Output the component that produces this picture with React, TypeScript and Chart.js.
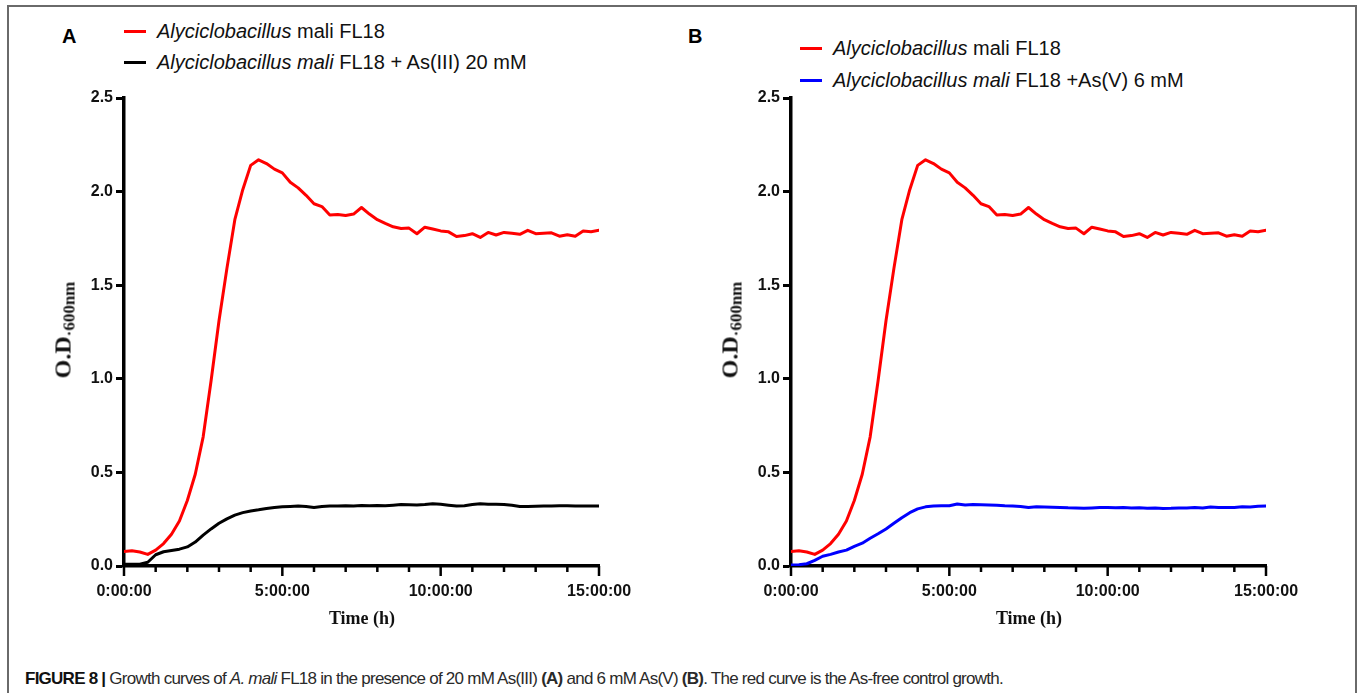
import React, { useEffect, useRef } from "react";
import { Chart, registerables } from "chart.js";

Chart.register(...registerables);

// ---- data ----
const TIME_H = [
  0, 0.25, 0.5, 0.75, 1, 1.25, 1.5, 1.75, 2, 2.25,
  2.5, 2.75, 3, 3.25, 3.5, 3.75, 4, 4.25, 4.5, 4.75,
  5, 5.25, 5.5, 5.75, 6, 6.25, 6.5, 6.75, 7, 7.25,
  7.5, 7.75, 8, 8.25, 8.5, 8.75, 9, 9.25, 9.5, 9.75,
  10, 10.25, 10.5, 10.75, 11, 11.25, 11.5, 11.75, 12, 12.25,
  12.5, 12.75, 13, 13.25, 13.5, 13.75, 14, 14.25, 14.5, 14.75,
  15,
];

const CONTROL_OD = [
  0.078, 0.082, 0.075, 0.062, 0.085, 0.12, 0.17, 0.24, 0.35, 0.49,
  0.69, 0.99, 1.31, 1.59, 1.85, 2.01, 2.14, 2.17, 2.15, 2.12,
  2.1, 2.05, 2.02, 1.98, 1.935, 1.92, 1.875, 1.878, 1.872, 1.88,
  1.915, 1.88, 1.85, 1.83, 1.812, 1.803, 1.805, 1.775, 1.81, 1.8,
  1.79, 1.785, 1.76, 1.765, 1.775, 1.755, 1.782, 1.768, 1.782, 1.777,
  1.772, 1.793, 1.775, 1.778, 1.78, 1.762, 1.77, 1.762, 1.79, 1.786,
  1.793,
];

const AS3_OD = [
  0.01, 0.01, 0.01, 0.02, 0.06, 0.076, 0.083, 0.09, 0.102, 0.128,
  0.165, 0.198, 0.228, 0.252, 0.272, 0.285, 0.294, 0.3, 0.307, 0.312,
  0.316, 0.318, 0.32, 0.318, 0.313, 0.318, 0.32, 0.32, 0.322, 0.321,
  0.323, 0.322, 0.323, 0.322, 0.325, 0.328, 0.327, 0.326, 0.328, 0.332,
  0.33, 0.325, 0.32, 0.322, 0.328, 0.332, 0.33, 0.33, 0.329, 0.324,
  0.318, 0.318, 0.319, 0.32, 0.32, 0.322, 0.322, 0.32, 0.321, 0.32,
  0.32,
];

const AS5_OD = [
  0.005, 0.007, 0.012, 0.03, 0.052, 0.062, 0.075, 0.085, 0.105, 0.122,
  0.148, 0.172, 0.198, 0.228, 0.258, 0.285, 0.305, 0.316, 0.32, 0.322,
  0.322, 0.331, 0.326, 0.328, 0.327, 0.326, 0.325, 0.322, 0.32, 0.318,
  0.313, 0.316, 0.315, 0.314, 0.313, 0.311, 0.31, 0.308, 0.31, 0.312,
  0.313, 0.311, 0.312, 0.31, 0.311, 0.309, 0.31, 0.307, 0.308, 0.31,
  0.31, 0.312, 0.31, 0.315, 0.312, 0.313, 0.313, 0.316, 0.315, 0.319,
  0.32,
];

const X_LABEL_HOURS = [0, 5, 10, 15];
const X_LABEL_TEXT = ["0:00:00", "5:00:00", "10:00:00", "15:00:00"];
const X_MINOR_HOURS = [0, 1, 2, 3, 4, 5, 6, 7, 8, 9, 10, 11, 12, 13, 14, 15];
const Y_MIN = 0;
const Y_MAX = 2.5;
const Y_STEP = 0.5;

const SANS = "'Liberation Sans', Arial, Helvetica, sans-serif";
const SERIF = "'Liberation Serif', 'Times New Roman', serif";

type Series = { label: string; values: number[]; color: string };

const xTickPlugin = {
  id: "hourTicks",
  afterDraw(chart: any) {
    const xs = chart.scales.x;
    const ctx = chart.ctx;
    const bottom = chart.chartArea.bottom;
    ctx.save();
    ctx.strokeStyle = "#000";
    ctx.lineWidth = 2.5;
    X_MINOR_HOURS.forEach((h) => {
      const px = xs.getPixelForValue(h);
      const len = X_LABEL_HOURS.includes(h) ? 10 : 6;
      ctx.beginPath();
      ctx.moveTo(px, bottom);
      ctx.lineTo(px, bottom + len);
      ctx.stroke();
    });
    ctx.restore();
  },
};

const CW = 620;
const CH = 560;

function Panel({ left, series }: { left: number; series: Series[] }) {
  const ref = useRef<HTMLCanvasElement>(null);
  useEffect(() => {
    const chart = new Chart(ref.current as HTMLCanvasElement, {
      type: "line",
      data: {
        datasets: series.map((s) => ({
          label: s.label,
          data: TIME_H.map((t, i) => ({ x: t, y: s.values[i] })),
          borderColor: s.color,
          backgroundColor: s.color,
          borderWidth: 3,
          pointRadius: 0,
          tension: 0,
          fill: false,
          borderJoinStyle: "round" as const,
          borderCapStyle: "round" as const,
        })),
      },
      options: {
        responsive: false,
        animation: false,
        devicePixelRatio: 1,
        layout: { padding: { top: 18, right: 51, left: 0, bottom: 0 } },
        plugins: { legend: { display: false }, tooltip: { enabled: false } },
        scales: {
          x: {
            type: "linear",
            min: 0,
            max: 15,
            afterFit: (s: any) => {
              s.height = 74;
            },
            afterBuildTicks: (s: any) => {
              s.ticks = X_LABEL_HOURS.map((v) => ({ value: v }));
            },
            ticks: {
              autoSkip: false,
              maxRotation: 0,
              padding: 6,
              color: "#111",
              font: { family: SANS, size: 16, weight: "bold" },
              callback: (v: any) => {
                const i = X_LABEL_HOURS.indexOf(Number(v));
                return i >= 0 ? X_LABEL_TEXT[i] : "";
              },
            },
            grid: {
              drawOnChartArea: false,
              drawTicks: true,
              tickLength: 10,
              tickColor: "rgba(0,0,0,0)",
            },
            border: { display: true, color: "#000", width: 3.5 },
          },
          y: {
            type: "linear",
            min: Y_MIN,
            max: Y_MAX,
            afterFit: (s: any) => {
              s.width = 94;
            },
            ticks: {
              stepSize: Y_STEP,
              padding: 3,
              color: "#111",
              font: { family: SANS, size: 16, weight: "bold" },
              callback: (v: any) => Number(v).toFixed(1),
            },
            grid: {
              drawOnChartArea: false,
              drawTicks: true,
              tickLength: 8,
              tickWidth: 3,
              tickColor: "#000",
            },
            border: { display: true, color: "#000", width: 3.5 },
          },
        },
      } as any,
      plugins: [xTickPlugin],
    });
    return () => chart.destroy();
  }, []);
  return (
    <canvas
      ref={ref}
      width={CW}
      height={CH}
      style={{ position: "absolute", left, top: 80, width: CW, height: CH }}
    />
  );
}

function YTitle({ cx }: { cx: number }) {
  return (
    <div
      style={{
        position: "absolute",
        left: cx,
        top: 330,
        transform: "translate(-50%, -50%) rotate(-90deg)",
        whiteSpace: "nowrap",
        fontFamily: SERIF,
        fontWeight: "bold",
        color: "#111",
        lineHeight: "26px",
      }}
    >
      <span style={{ fontSize: 24 }}>O.D</span>
      <span style={{ fontSize: 17, position: "relative", top: 4 }}>·600nm</span>
    </div>
  );
}

function XTitle({ cx }: { cx: number }) {
  return (
    <div
      style={{
        position: "absolute",
        left: cx,
        top: 618,
        transform: "translate(-50%, -50%)",
        whiteSpace: "nowrap",
        fontFamily: SERIF,
        fontWeight: "bold",
        fontSize: 18,
        color: "#111",
      }}
    >
      Time (h)
    </div>
  );
}

function LegendRow({ x, y, color, children }: { x: number; y: number; color: string; children: any }) {
  return (
    <>
      <div style={{ position: "absolute", left: x, top: y - 1.5, width: 22, height: 3, background: color }} />
      <div
        style={{
          position: "absolute",
          left: x + 33,
          top: y - 11,
          height: 22,
          lineHeight: "22px",
          whiteSpace: "nowrap",
          fontFamily: SANS,
          fontSize: 20,
          color: "#111",
        }}
      >
        {children}
      </div>
    </>
  );
}

function PanelLabel({ x, text }: { x: number; text: string }) {
  return (
    <div
      style={{
        position: "absolute",
        left: x,
        top: 25,
        lineHeight: "22px",
        fontFamily: SANS,
        fontWeight: "bold",
        fontSize: 20,
        color: "#000",
      }}
    >
      {text}
    </div>
  );
}

export default function App() {
  const RED = "#ff0000";
  return (
    <div
      style={{
        position: "fixed",
        left: 0,
        top: 0,
        width: 1360,
        height: 693,
        background: "#fff",
        overflow: "hidden",
      }}
    >
      <div
        style={{
          position: "absolute",
          left: 7,
          top: 5,
          width: 1346,
          height: 720,
          border: "2px solid #6a6a6a",
        }}
      />
      <PanelLabel x={62} text="A" />
      <PanelLabel x={688} text="B" />

      <LegendRow x={124} y={31} color={RED}>
        <i>Alyciclobacillus</i> mali FL18
      </LegendRow>
      <LegendRow x={124} y={62} color="#000">
        <i>Alyciclobacillus mali</i> FL18 + As(III) 20 mM
      </LegendRow>
      <LegendRow x={800} y={48} color={RED}>
        <i>Alyciclobacillus</i> mali FL18
      </LegendRow>
      <LegendRow x={800} y={80} color="#0000ff">
        <i>Alyciclobacillus mali</i> FL18 +As(V) 6 mM
      </LegendRow>

      <Panel
        left={30}
        series={[
          { label: "Alyciclobacillus mali FL18", values: CONTROL_OD, color: RED },
          { label: "Alyciclobacillus mali FL18 + As(III) 20 mM", values: AS3_OD, color: "#000" },
        ]}
      />
      <Panel
        left={697}
        series={[
          { label: "Alyciclobacillus mali FL18", values: CONTROL_OD, color: RED },
          { label: "Alyciclobacillus mali FL18 +As(V) 6 mM", values: AS5_OD, color: "#0000ff" },
        ]}
      />

      <YTitle cx={64} />
      <YTitle cx={731} />
      <XTitle cx={362} />
      <XTitle cx={1029} />

      <div
        style={{
          position: "absolute",
          left: 25,
          top: 669,
          lineHeight: "19px",
          whiteSpace: "nowrap",
          fontFamily: SANS,
          fontSize: 17,
          letterSpacing: "-0.75px",
          color: "#2a2a2a",
        }}
      >
        <b style={{ color: "#111" }}>FIGURE 8 |</b> Growth curves of <i>A. mali</i> FL18 in the presence of 20 mM
        As(III) <b>(A)</b> and 6 mM As(V) <b>(B)</b>. The red curve is the As-free control growth.
      </div>
    </div>
  );
}
